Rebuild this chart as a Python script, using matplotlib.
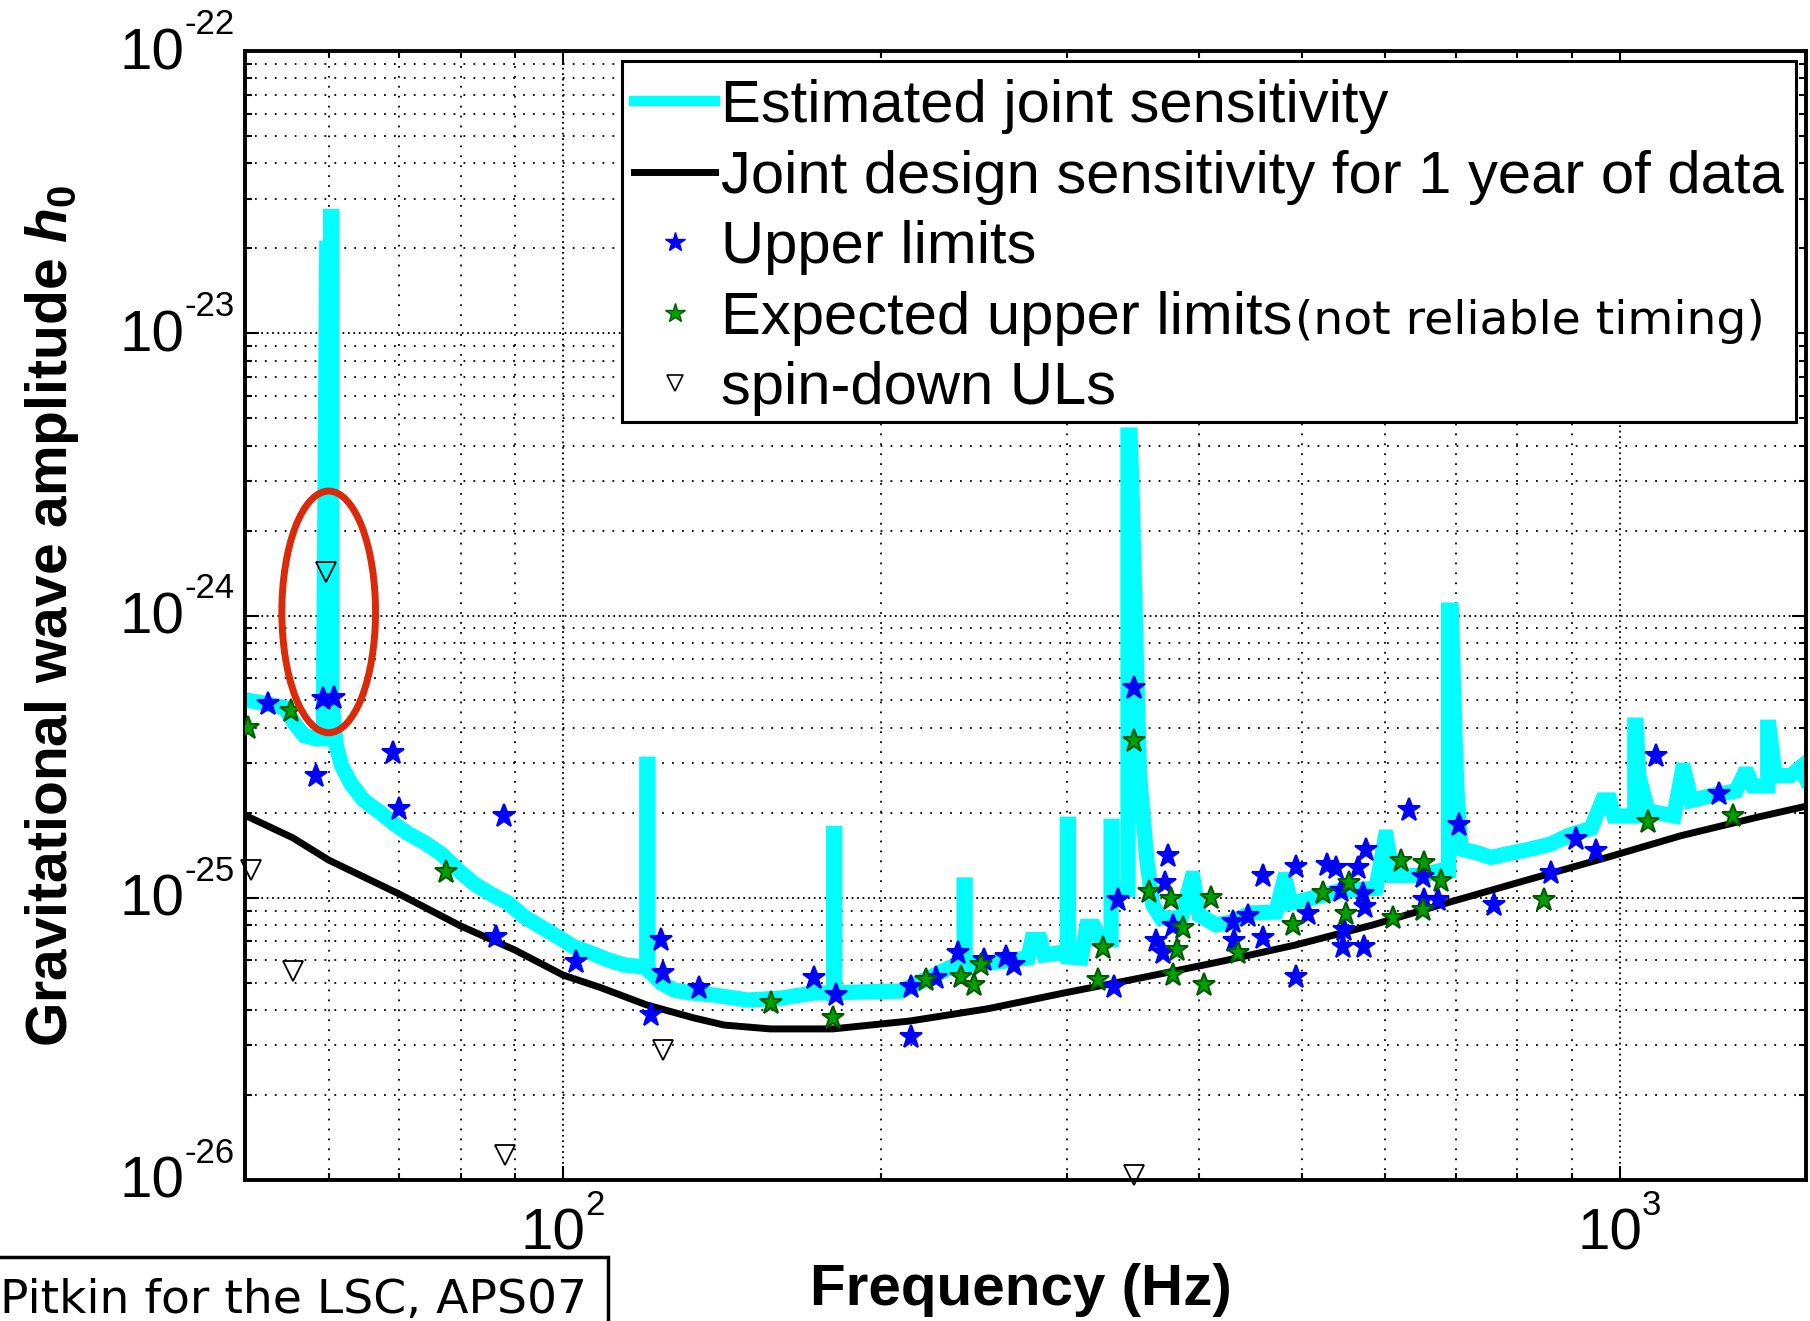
import matplotlib
matplotlib.use("Agg")
import matplotlib.pyplot as plt
import matplotlib.transforms as mtransforms
from matplotlib.lines import Line2D
from matplotlib.patches import Ellipse

plt.rcParams['font.family'] = 'Liberation Sans'
plt.rcParams['mathtext.fontset'] = 'custom'
plt.rcParams['mathtext.rm'] = 'Liberation Sans:bold'
plt.rcParams['mathtext.it'] = 'Liberation Sans:italic:bold'

# estimated joint sensitivity (frequency in Hz, strain amplitude)
sens_freq = [50.0, 52.4, 54.5, 55.7, 56.9, 58.4, 59.3, 59.75, 60.26, 60.26, 60.4, 60.4,
             61.0, 61.7, 63.0, 64.8, 67.3, 69.2, 71.3, 73.9, 76.7, 79.6, 82.4, 85.5,
             88.7, 91.9, 95.3, 98.9, 102.4, 106.3, 110.3, 114.2, 120.0, 120.0, 120.3, 120.3,
             123.8, 127.4, 132.2, 139.0, 149.6, 160.8, 172.8, 180.3, 180.3, 180.7, 180.7,
             191.4, 208.8, 222.9, 232.8, 239.6, 239.6, 240.1, 240.1, 257.9, 275.4, 277.8,
             282.7, 285.2, 294.0, 300.0, 300.0, 300.7, 300.7, 309.1, 313.0, 317.9, 322.8,
             330.0, 330.0, 330.7, 330.7, 342.4, 342.4, 343.9, 345.1, 349.1, 351.1, 356.8,
             361.5, 367.9, 384.4, 393.5, 394.5, 399.7, 414.8, 428.5, 447.6, 472.6, 481.2,
             482.2, 488.3, 513.4, 544.5, 587.7, 600.0, 601.0, 609.8, 648.2, 677.1, 688.5,
             688.5, 692.5, 698.1, 701.1, 707.3, 734.0, 755.1, 788.6, 823.7, 860.5, 892.9,
             939.0, 963.0, 978.0, 987.0, 1029.0, 1033.0, 1033.0, 1036.0, 1042.0, 1063.0,
             1125.0, 1146.0, 1150.0, 1168.0, 1219.0, 1288.0, 1311.0, 1321.0, 1336.0,
             1380.0, 1380.0, 1384.0, 1402.0, 1451.0, 1483.0, 1500.0]
sens_h0 = [5.03e-25, 4.87e-25, 4.71e-25, 4.14e-25, 3.75e-25, 3.66e-25, 3.66e-25, 2.0e-23,
           2.0e-23, 2.59e-23, 2.59e-23, 5.0e-25, 3.46e-25, 2.94e-25, 2.53e-25, 2.21e-25,
           1.99e-25, 1.83e-25, 1.69e-25, 1.57e-25, 1.43e-25, 1.25e-25, 1.12e-25, 1.03e-25,
           9.58e-26, 8.55e-26, 7.88e-26, 7.26e-26, 6.69e-26, 6.37e-26, 6.02e-26, 5.78e-26,
           5.68e-26, 2.97e-25, 2.97e-25, 5.55e-26, 4.99e-26, 4.71e-26, 4.60e-26, 4.52e-26,
           4.34e-26, 4.41e-26, 4.60e-26, 4.60e-26, 1.69e-25, 1.69e-25, 4.60e-26, 4.64e-26,
           4.67e-26, 5.24e-26, 5.68e-26, 5.68e-26, 1.11e-25, 1.11e-25, 5.78e-26, 5.92e-26,
           6.12e-26, 7.11e-26, 7.11e-26, 6.27e-26, 6.37e-26, 6.27e-26, 1.82e-25, 1.82e-25,
           6.17e-26, 6.12e-26, 7.91e-26, 7.91e-26, 7.09e-26, 7.09e-26, 1.79e-25, 1.79e-25,
           1.07e-25, 1.07e-25, 4.36e-24, 4.36e-24, 3.08e-24, 5.87e-25, 2.71e-25, 1.35e-25,
           9.43e-26, 8.48e-26, 8.48e-26, 1.17e-25, 1.17e-25, 8.69e-26, 8.01e-26, 8.2e-26,
           8.83e-26, 8.9e-26, 1.16e-25, 1.16e-25, 9.58e-26, 1.0e-25, 1.06e-25, 1.08e-25,
           1.64e-25, 1.64e-25, 1.2e-25, 1.2e-25, 1.25e-25, 1.25e-25, 1.045e-24, 1.045e-24,
           3.75e-25, 2.39e-25, 1.49e-25, 1.44e-25, 1.39e-25, 1.44e-25, 1.49e-25, 1.55e-25,
           1.66e-25, 1.76e-25, 2.22e-25, 2.22e-25, 1.95e-25, 1.95e-25, 1.95e-25, 4.09e-25,
           4.09e-25, 2.71e-25, 2.03e-25, 1.95e-25, 2.83e-25, 2.83e-25, 2.21e-25, 2.30e-25,
           2.39e-25, 2.74e-25, 2.74e-25, 2.49e-25, 2.49e-25, 4.02e-25, 4.02e-25, 2.71e-25,
           2.71e-25, 2.9e-25, 2.64e-25]

# design sensitivity, 1 year of data
design_freq = [50.0, 55.5, 60.0, 70.0, 80.0, 90.0, 100.0, 108.6, 120.0, 133.0, 142.0,
               157.0, 180.0, 213.0, 252.0, 298.0, 352.0, 417.0, 493.0, 583.0, 690.0,
               817.0, 966.0, 1143.0, 1350.0, 1500.0]
design_h0 = [1.96e-25, 1.63e-25, 1.36e-25, 1.03e-25, 7.94e-26, 6.53e-26, 5.32e-26, 4.8e-26,
             4.17e-26, 3.75e-26, 3.54e-26, 3.43e-26, 3.43e-26, 3.66e-26, 4.04e-26, 4.60e-26,
             5.20e-26, 5.92e-26, 6.80e-26, 8.0e-26, 9.65e-26, 1.156e-25, 1.38e-25, 1.66e-25,
             1.93e-25, 2.11e-25]

# upper limits
ul_freq = [52.6, 59.3, 60.7, 58.4, 69.1, 70.0, 87.9, 86.4, 102.9, 123.8, 124.3, 121.1,
           134.5, 172.8, 181.3, 213.4, 213.4, 225.4, 236.4, 250.2, 262.5, 267.1, 335.0,
           332.1, 346.9, 373.6, 371.2, 377.7, 363.9, 369.5, 430.4, 444.7, 431.3, 459.5,
           459.5, 493.8, 506.8, 493.8, 528.2, 538.7, 544.5, 565.1, 575.1, 571.4, 573.9,
           546.9, 572.7, 548.2, 631.5, 651.2, 652.6, 672.8, 704.1, 760.1, 860.5, 908.7,
           949.2, 1082.0, 1241.0]
ul_h0 = [4.87e-25, 5.07e-25, 5.11e-25, 2.71e-25, 3.26e-25, 2.07e-25, 1.95e-25, 7.26e-26,
         5.92e-26, 7.09e-26, 5.41e-26, 3.84e-26, 4.79e-26, 5.20e-26, 4.52e-26, 4.83e-26,
         3.21e-26, 5.20e-26, 6.37e-26, 6.02e-26, 6.17e-26, 5.78e-26, 9.82e-26, 4.83e-26,
         5.55e-25, 1.41e-25, 1.13e-25, 7.94e-26, 7.03e-26, 6.37e-26, 8.2e-26, 8.61e-26,
         7.03e-26, 1.19e-25, 7.2e-26, 1.29e-25, 8.76e-26, 5.24e-26, 1.31e-25, 1.27e-25,
         1.06e-25, 1.27e-25, 1.48e-25, 1.03e-25, 9.27e-26, 6.69e-26, 6.69e-26, 7.69e-26,
         2.05e-25, 1.18e-25, 9.82e-26, 9.82e-26, 1.81e-25, 9.43e-26, 1.22e-25, 1.61e-25,
         1.47e-25, 3.18e-25, 2.34e-25]

# expected upper limits
exp_freq = [50.35, 55.3, 77.5, 157.3, 180.1, 220.5, 237.9, 244.8, 248.6, 324.3, 320.7,
            346.9, 358.4, 376.0, 386.0, 381.0, 377.7, 404.1, 410.2, 435.1, 490.5, 523.6,
            554.2, 550.6, 609.8, 620.6, 652.6, 677.1, 651.2, 847.4, 1063.0, 1279.0]
exp_h0 = [4.0e-25, 4.6e-25, 1.23e-25, 4.24e-26, 3.75e-26, 5.11e-26, 5.24e-26, 4.91e-26,
          5.78e-26, 6.64e-26, 5.11e-26, 3.6e-25, 1.05e-25, 9.9e-26, 7.81e-26, 6.53e-26,
          5.32e-26, 4.91e-26, 1.0e-25, 6.37e-26, 8.01e-26, 1.04e-25, 1.13e-25, 8.76e-26,
          8.48e-26, 1.35e-25, 1.33e-25, 1.15e-25, 9.05e-26, 9.82e-26, 1.85e-25, 1.95e-25]

# spin-down upper limits
sd_freq = [50.7, 55.5, 59.7, 88.1, 124.3, 346.9]
sd_h0 = [1.25e-25, 5.5e-26, 1.43e-24, 1.23e-26, 2.89e-26, 1.04e-26]

x_decades = [2, 3]
y_decades = [-26, -25, -24, -23, -22]

legend_labels = ['Estimated joint sensitivity',
                 'Joint design sensitivity for 1 year of data',
                 'Upper limits',
                 'Expected upper limits',
                 'spin-down ULs']

# the 60 Hz line that is circled
ring_freq = 60.0
ring_h0 = 1.03e-24

CYAN = '#00ffff'
BLUE = '#0000ff'
GREEN = '#00a000'
GREEN_EDGE = '#005a00'

W, H = 1810, 1321
fig = plt.figure(figsize=(W / 100, H / 100), dpi=100)
ax = fig.add_axes([245 / W, 1 - 1180 / H, 1561 / W, 1129 / H])

ax.plot(sens_freq, sens_h0, color=CYAN, lw=11, solid_joinstyle='miter', zorder=2)
ax.plot(design_freq, design_h0, color='k', lw=5, zorder=3)
ax.plot(ul_freq, ul_h0, ls='none', marker='*', ms=17, mfc=BLUE, mec=BLUE, mew=1.5, zorder=4)
ax.plot(exp_freq, exp_h0, ls='none', marker='*', ms=17, mfc=GREEN, mec=GREEN_EDGE,
        mew=1.5, zorder=4)
ax.plot(sd_freq, sd_h0, ls='none', marker='v', ms=14.5, mfc='none', mec='k', mew=1.3,
        zorder=5, clip_on=False)

ax.set_xscale('log')
ax.set_yscale('log')
ax.set_xlim(50, 1500)
ax.set_ylim(1e-26, 1e-22)

ax.tick_params(which='both', direction='in', top=True, right=True,
               labelbottom=False, labelleft=False, width=1.5, color='k')
ax.tick_params(which='major', length=10)
ax.tick_params(which='minor', length=5)
for sp in ax.spines.values():
    sp.set_linewidth(2.8)

ax.set_axisbelow(True)
ax.grid(True, which='major', color='k', lw=1.3, ls=(0, (1, 2)))
ax.grid(True, which='minor', color='k', lw=1.3, ls=(0, (1, 4.5)))

# matlab style tick labels: "10" with a raised exponent
for e in y_decades:
    ax.annotate('10', xy=(0, 10.0 ** e), xycoords=('axes fraction', 'data'),
                xytext=(-61, -18), textcoords='offset pixels', ha='right', va='baseline',
                fontsize=42, annotation_clip=False)
    ax.annotate('-%d' % abs(e), xy=(0, 10.0 ** e), xycoords=('axes fraction', 'data'),
                xytext=(-61, 17), textcoords='offset pixels', ha='left', va='baseline',
                fontsize=25, annotation_clip=False)
for e in x_decades:
    ax.annotate('10', xy=(10.0 ** e, 0), xycoords=('data', 'axes fraction'),
                xytext=(22, -70), textcoords='offset pixels', ha='right', va='baseline',
                fontsize=42, annotation_clip=False)
    ax.annotate('%d' % e, xy=(10.0 ** e, 0), xycoords=('data', 'axes fraction'),
                xytext=(22, -35), textcoords='offset pixels', ha='left', va='baseline',
                fontsize=25, annotation_clip=False)

ax.set_xlabel('Frequency (Hz)', fontsize=42, fontweight='bold')
ax.xaxis.set_label_coords(0.497, -0.0735)
ax.set_ylabel(r'Gravitational wave amplitude $\mathit{h_0}$', fontsize=41, fontweight='bold')
ax.yaxis.set_label_coords(-0.105, 0.5)

handles = [
    Line2D([], [], color=CYAN, lw=7.5),
    Line2D([], [], color='k', lw=5),
    Line2D([], [], ls='none', marker='*', ms=15, mfc=BLUE, mec=BLUE),
    Line2D([], [], ls='none', marker='*', ms=15, mfc=GREEN, mec=GREEN_EDGE),
    Line2D([], [], ls='none', marker='v', ms=12, mfc='none', mec='k', mew=1.2),
]
leg = ax.legend(handles, legend_labels, loc='upper right', bbox_to_anchor=(1, 1),
                borderaxespad=0.17, fontsize=43, handlelength=1.36, handletextpad=0.1,
                borderpad=0.2, labelspacing=0.26, fancybox=False, framealpha=1,
                edgecolor='k', numpoints=1)
leg.get_frame().set_linewidth(2.2)

# entries sit a little low inside the frame
drop = mtransforms.Affine2D().translate(0, -6)
for art in list(leg.get_texts()) + list(leg.legend_handles):
    art.set_transform(art.get_transform() + drop)

# red ring around the 60 Hz line
ax.figure.canvas.draw()
cx, cy = ax.transAxes.inverted().transform(ax.transData.transform((ring_freq, ring_h0)))
ring = Ellipse((cx, cy), 0.060, 0.214, transform=ax.transAxes, fill=False,
               ec='#da2a0a', lw=5, zorder=6, clip_on=False)
ax.add_patch(ring)

fig.text(0, 1 - 1313 / H, 'Pitkin for the LSC, APS07', fontsize=34, family='DejaVu Sans',
         ha='left', va='baseline',
         bbox=dict(boxstyle='square,pad=0.45', fc='white', ec='k', lw=2.5))

# note after the expected upper limits entry, in a smaller font
renderer = fig.canvas.get_renderer()
txt = leg.get_texts()[3]
bb = txt.get_window_extent(renderer)
_, _, desc = renderer.get_text_width_height_descent(txt.get_text(), txt.get_fontproperties(),
                                                     ismath=False)
fx, fy = fig.transFigure.inverted().transform((bb.x1 + 2, bb.y0 + desc))
fig.text(fx, fy, '(not reliable timing)', fontsize=34, family='DejaVu Sans',
         ha='left', va='baseline')

fig.savefig('out.png', dpi=100)
